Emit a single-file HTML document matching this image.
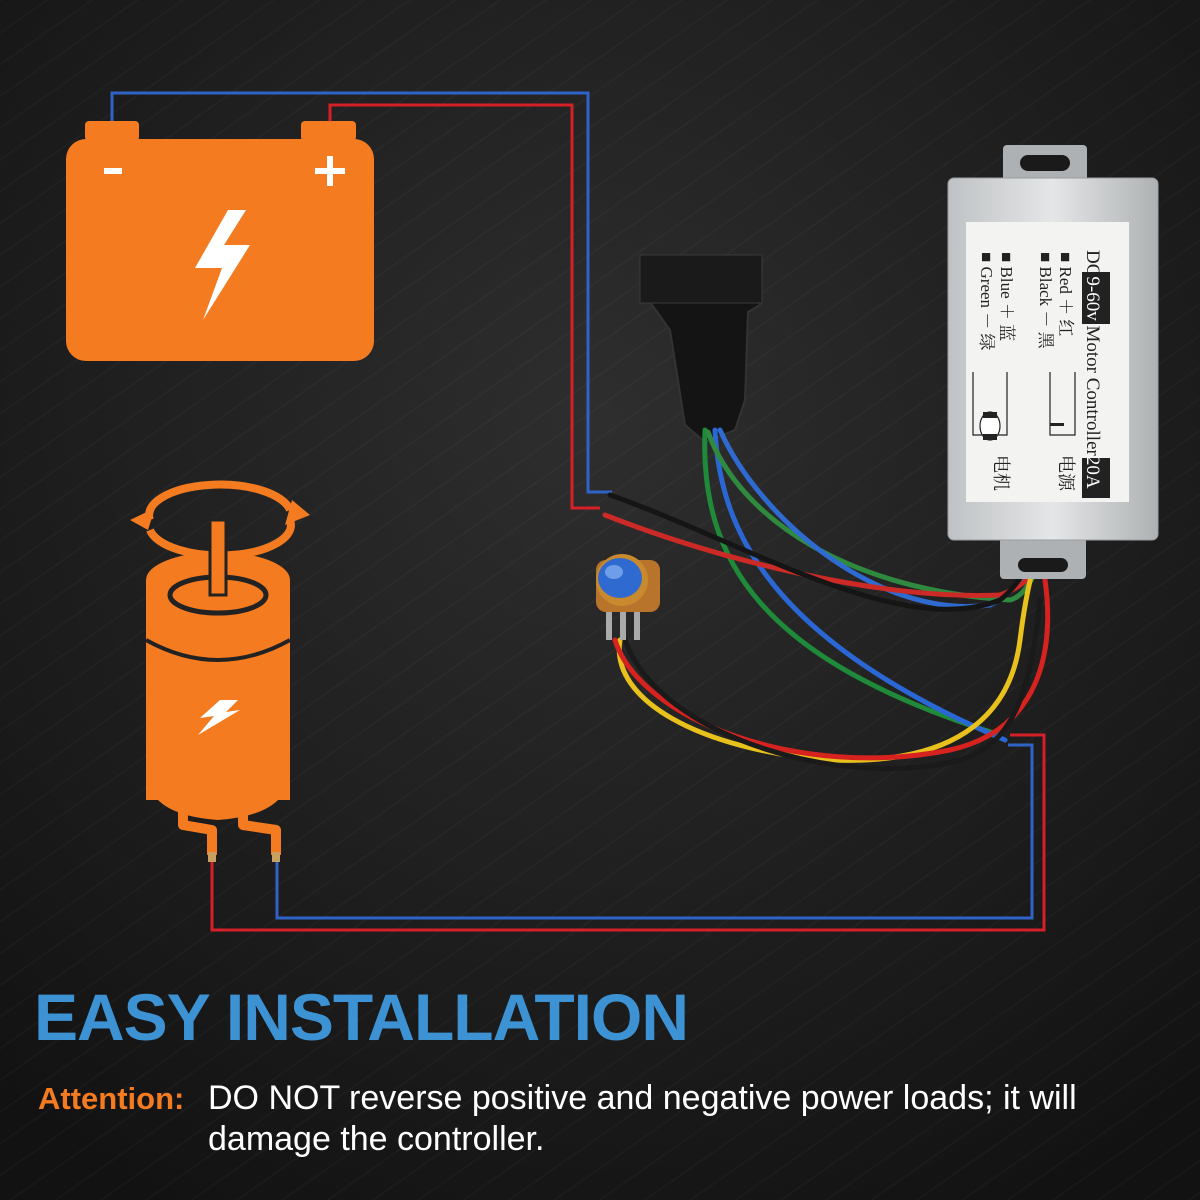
<!DOCTYPE html>
<html><head><meta charset="utf-8"><style>
html,body{margin:0;padding:0;width:1200px;height:1200px;overflow:hidden;background:#1c1c1c}
svg{display:block}
.t{font-family:"Liberation Sans",sans-serif}
.s{font-family:"Liberation Serif","Noto Serif CJK SC",serif}
</style></head><body>
<svg width="1200" height="1200" viewBox="0 0 1200 1200" xmlns="http://www.w3.org/2000/svg">
<defs>
<radialGradient id="bg" cx="0.5" cy="0.35" r="0.75">
<stop offset="0" stop-color="#2e2e2e"/><stop offset="1" stop-color="#121212"/>
</radialGradient>
<pattern id="str" width="26" height="26" patternUnits="userSpaceOnUse" patternTransform="rotate(-35)">
<rect width="26" height="2" fill="#ffffff" opacity="0.025"/>
</pattern>
<linearGradient id="al" x1="0" x2="1">
<stop offset="0" stop-color="#bfc2c4"/><stop offset="0.5" stop-color="#e4e6e7"/><stop offset="1" stop-color="#aeb1b3"/>
</linearGradient>
</defs>
<rect width="1200" height="1200" fill="url(#bg)"/>
<rect width="1200" height="1200" fill="url(#str)"/>

<polyline points="112,124 112,93 588,93 588,492 612,492" fill="none" stroke="#2f63c8" stroke-width="3"/>
<polyline points="330,124 330,105 572,105 572,508 600,508" fill="none" stroke="#d42026" stroke-width="3"/>

<rect x="85" y="121" width="54" height="20" rx="4" fill="#f47b20"/>
<rect x="301" y="121" width="55" height="20" rx="4" fill="#f47b20"/>
<rect x="66" y="139" width="308" height="222" rx="20" fill="#f47b20"/>
<rect x="104" y="168" width="18" height="6" fill="#fff"/>
<rect x="315" y="168" width="30" height="6" fill="#fff"/><rect x="327" y="156" width="6" height="30" fill="#fff"/>
<polygon points="228,210 195,268 222,268 203,320 250,245 224,245 246,210" fill="#fff"/>

<g fill="none" stroke="#f47b20" stroke-width="8">
<path d="M150,520 A70,30 0 0 1 290,510"/>
<path d="M290,520 A70,30 0 0 1 150,530"/>
</g>
<polygon points="292,500 310,515 285,525" fill="#f47b20"/>
<polygon points="148,530 130,520 155,508" fill="#f47b20"/>
<rect x="146" y="580" width="144" height="220" fill="#f47b20"/>
<ellipse cx="218" cy="580" rx="72" ry="28" fill="#f47b20"/>
<ellipse cx="218" cy="595" rx="48" ry="18" fill="none" stroke="#222" stroke-width="5"/>
<path d="M146,770 Q146,815 218,820 Q290,815 290,770 Z" fill="#f47b20"/>
<path d="M146,640 Q218,680 290,640" fill="none" stroke="#222" stroke-width="4"/>
<rect x="210" y="520" width="16" height="75" fill="#f47b20" stroke="#222" stroke-width="3"/>
<polygon points="220,700 200,718 214,716 198,735 240,710 226,712 238,700" fill="#fff"/>
<g fill="none" stroke="#f47b20" stroke-width="10" stroke-linejoin="round">
<polyline points="183,800 183,825 212,830 212,855"/>
<polyline points="243,800 243,825 276,830 276,855"/>
</g>
<rect x="208" y="852" width="8" height="10" fill="#c8a060"/><rect x="272" y="852" width="8" height="10" fill="#c8a060"/>

<polyline points="212,862 212,930 1044,930 1044,735 1010,735" fill="none" stroke="#d42026" stroke-width="3"/>
<polyline points="277,862 277,918 1032,918 1032,745 1008,745" fill="none" stroke="#2f63c8" stroke-width="3"/>

<path d="M642,256 L762,262 L760,305 L748,312 L745,400 L735,430 L705,442 L685,425 L670,330 L652,305 L642,290 Z" fill="#141414" stroke="#333" stroke-width="2"/>
<rect x="640" y="255" width="122" height="48" fill="#1a1a1a" stroke="#3a3a3a"/>

<g fill="none" stroke-width="5" stroke-linecap="round">
<path d="M705,430 C700,560 760,660 1000,735" stroke="#1f8a3a"/>
<path d="M715,430 C720,530 770,640 1005,740" stroke="#2a67d4"/>
<path d="M708,432 C740,520 850,590 1010,600 C1030,595 1040,560 1045,545" stroke="#2f8a40"/>
<path d="M720,430 C760,520 880,620 990,605 C1020,590 1030,565 1035,548" stroke="#2f6ad0"/>
<path d="M605,515 C720,560 880,600 1000,595 C1030,585 1040,565 1048,550" stroke="#cc2a26"/>
<path d="M610,495 C740,540 900,640 1000,600 C1020,585 1030,560 1040,545" stroke="#151515"/>
<path d="M620,640 C610,700 700,750 830,760 C950,765 1010,720 1020,640 C1025,600 1030,580 1035,560" stroke="#e8c11c"/>
<path d="M615,640 C640,720 800,780 950,750 C1040,730 1055,650 1045,580" stroke="#d6231f"/>
<path d="M625,640 C660,740 850,790 960,760 C1010,745 1030,700 1040,600" stroke="#1a1a1a"/>
</g>
<rect x="596" y="560" width="64" height="52" rx="10" fill="#b8742a"/>
<circle cx="622" cy="580" r="26" fill="#c8892f"/>
<ellipse cx="620" cy="578" rx="22" ry="20" fill="#2f6ad0"/>
<ellipse cx="614" cy="572" rx="9" ry="7" fill="#6f9ee8"/>
<rect x="606" y="612" width="6" height="28" fill="#aaa"/><rect x="620" y="612" width="6" height="28" fill="#aaa"/><rect x="634" y="612" width="6" height="28" fill="#aaa"/>

<rect x="1003" y="145" width="84" height="40" rx="4" fill="#aeb1b3"/>
<rect x="1020" y="155" width="50" height="16" rx="8" fill="#1a1a1a"/>
<rect x="1000" y="535" width="86" height="44" rx="4" fill="#aeb1b3"/>
<rect x="1018" y="558" width="50" height="14" rx="7" fill="#1a1a1a"/>
<rect x="948" y="178" width="210" height="362" rx="6" fill="url(#al)" stroke="#9a9d9f"/>
<rect x="966" y="222" width="163" height="280" fill="#f3f3f1"/>
<rect x="1082" y="272" width="28" height="52" fill="#222"/>
<rect x="1082" y="458" width="28" height="40" fill="#222"/>
<g class="s" fill="#222" font-size="19">
<g transform="translate(1087,250) rotate(90)"><text>DC<tspan fill="#fff">9-60v</tspan> Motor  Controller<tspan fill="#fff">20A</tspan></text></g>
<g transform="translate(1060,252) rotate(90)" font-size="17"><text>■ Red  ＋ 红</text></g>
<g transform="translate(1040,252) rotate(90)" font-size="17"><text>■ Black － 黑</text></g>
<g transform="translate(1001,252) rotate(90)" font-size="17"><text>■ Blue  ＋ 蓝</text></g>
<g transform="translate(981,252) rotate(90)" font-size="17"><text>■ Green － 绿</text></g>
<g transform="translate(1060,455) rotate(90)" font-size="18"><text>电源</text></g>
<g transform="translate(995,455) rotate(90)" font-size="18"><text>电机</text></g>
</g>
<g fill="none" stroke="#222" stroke-width="1.2">
<polyline points="1075,372 1075,435 1050,435 1050,372"/>
<polyline points="1007,372 1007,435 973,435 973,372"/>
<ellipse cx="990" cy="426" rx="10" ry="14" fill="#fff"/>
</g>
<rect x="1050" y="423" width="14" height="3" fill="#222"/>
<rect x="983" y="412" width="14" height="6" fill="#222"/><rect x="983" y="434" width="14" height="6" fill="#222"/>

<text x="34" y="1040" class="t" font-size="66" font-weight="bold" fill="#3d92d4" letter-spacing="-1">EASY INSTALLATION</text>
<text x="38" y="1109" class="t" font-size="31" font-weight="bold" fill="#f47b20">Attention:</text>
<text x="208" y="1109" class="t" font-size="34" fill="#ffffff">DO NOT reverse positive and negative power loads; it will</text>
<text x="208" y="1150" class="t" font-size="34" fill="#ffffff">damage the controller.</text>
</svg>
</body></html>
